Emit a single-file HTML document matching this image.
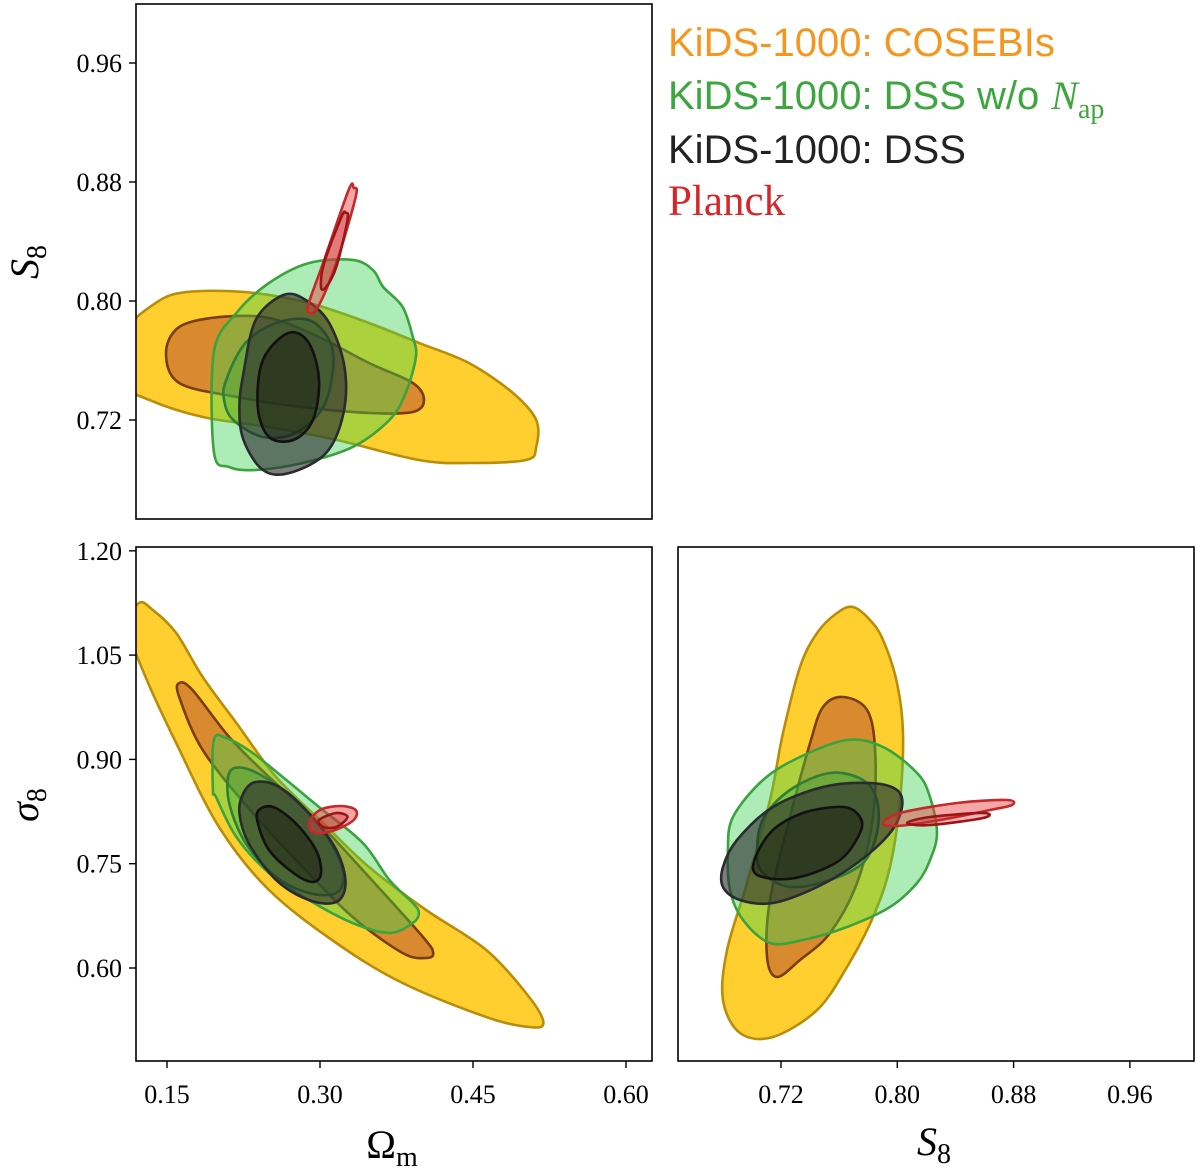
<!DOCTYPE html>
<html><head><meta charset="utf-8"><style>
body{margin:0;background:#fff}
svg{display:block}
text{font-family:"Liberation Serif","DejaVu Serif",serif}
</style></head><body>
<svg id="fig" width="1200" height="1170" viewBox="0 0 1200 1170" xmlns="http://www.w3.org/2000/svg">
<g font-size="40">
<text x="668" y="56" fill="#f5961f" style="font-family:'Liberation Sans',sans-serif">KiDS-1000:  COSEBIs</text>
<text x="668" y="109" fill="#3ea63e"><tspan style="font-family:'Liberation Sans',sans-serif">KiDS-1000:  DSS w/o</tspan><tspan font-style="italic" dx="12">N</tspan><tspan font-size="28" dy="9">ap</tspan></text>
<text x="668" y="163" fill="#222" style="font-family:'Liberation Sans',sans-serif">KiDS-1000:  DSS</text>
<text x="668" y="215" fill="#d62728" font-size="43">Planck</text>
</g>
</svg>
<script>
// ---- axis ticks ----
const omTicks=[0.15,0.30,0.45,0.60];
const s8Ticks=[0.72,0.80,0.88,0.96];
const sigTicks=[0.60,0.75,0.90,1.05,1.20];
// ---- contour data: [x,y] in data units ----
// Panel A: Omega_m vs S8
const A_cosebis2=[[0.108,0.778],[0.139,0.7987],[0.169,0.806],[0.227,0.806],[0.289,0.7987],[0.348,0.7852],[0.397,0.7718],[0.446,0.7583],[0.489,0.7382],[0.512,0.72],[0.512,0.7018],[0.502,0.6931],[0.446,0.6911],[0.397,0.6931],[0.316,0.7066],[0.250,0.7153],[0.185,0.722],[0.133,0.7334],[0.108,0.745]];
const A_cosebis1=[[0.149,0.765],[0.162,0.7825],[0.201,0.7892],[0.250,0.7886],[0.299,0.7758],[0.348,0.7583],[0.391,0.7449],[0.402,0.7334],[0.391,0.7254],[0.348,0.7247],[0.283,0.7287],[0.218,0.7355],[0.162,0.7449]];
const A_noNap2=[[0.196,0.7657],[0.218,0.7919],[0.250,0.8121],[0.289,0.8255],[0.332,0.8276],[0.352,0.8208],[0.362,0.8094],[0.381,0.796],[0.391,0.7758],[0.394,0.7624],[0.384,0.7382],[0.368,0.72],[0.332,0.7018],[0.283,0.6911],[0.237,0.6864],[0.211,0.6884],[0.196,0.6985]];
const A_noNap1=[[0.208,0.7469],[0.227,0.7718],[0.257,0.7852],[0.289,0.7872],[0.309,0.7738],[0.313,0.7556],[0.303,0.7287],[0.276,0.7113],[0.244,0.7086],[0.215,0.72],[0.206,0.7334]];
const A_dss2=[[0.225,0.7516],[0.237,0.7872],[0.264,0.804],[0.286,0.8007],[0.309,0.7852],[0.324,0.7556],[0.323,0.7247],[0.306,0.6978],[0.270,0.6844],[0.244,0.6864],[0.225,0.7066],[0.221,0.7287]];
const A_dss1=[[0.269,0.7785],[0.289,0.7718],[0.299,0.7469],[0.293,0.72],[0.274,0.7066],[0.250,0.7086],[0.239,0.7287],[0.244,0.7603]];
const A_planck2=[[0.333,0.876],[0.335,0.870],[0.316,0.8255],[0.298,0.796],[0.289,0.792],[0.289,0.7987],[0.303,0.8255],[0.328,0.8746]];
const A_planck1=[[0.325,0.8592],[0.327,0.8545],[0.316,0.8229],[0.306,0.8094],[0.301,0.8094],[0.304,0.8255],[0.321,0.8565]];
// Panel B: Omega_m vs sigma8
const B_cosebis2=[[0.1225,1.125],[0.136,1.115],[0.159,1.0818],[0.185,1.0185],[0.218,0.9524],[0.257,0.8747],[0.303,0.8085],[0.348,0.7453],[0.404,0.6834],[0.463,0.6259],[0.505,0.5583],[0.519,0.5209],[0.505,0.5151],[0.463,0.5295],[0.381,0.5784],[0.316,0.636],[0.250,0.7122],[0.201,0.8028],[0.159,0.9236],[0.129,1.0185],[0.112,1.09]];
const B_cosebis1=[[0.162,1.0099],[0.175,0.9998],[0.211,0.9322],[0.250,0.8747],[0.299,0.8085],[0.348,0.7309],[0.401,0.6446],[0.411,0.6216],[0.404,0.6144],[0.381,0.6216],[0.332,0.6733],[0.283,0.7453],[0.234,0.8229],[0.185,0.9135],[0.162,0.9898]];
const B_noNap2=[[0.196,0.9279],[0.208,0.9308],[0.234,0.9092],[0.267,0.8704],[0.299,0.8316],[0.342,0.7798],[0.368,0.7266],[0.391,0.6935],[0.397,0.6791],[0.391,0.6647],[0.368,0.6503],[0.332,0.6647],[0.289,0.6978],[0.250,0.7366],[0.218,0.7884],[0.198,0.8459],[0.195,0.856]];
const B_noNap1=[[0.211,0.8805],[0.225,0.8876],[0.250,0.8704],[0.283,0.8316],[0.309,0.7841],[0.323,0.7366],[0.316,0.7079],[0.289,0.7079],[0.257,0.7309],[0.227,0.7798],[0.211,0.8373]];
const B_dss2=[[0.225,0.8517],[0.237,0.8675],[0.260,0.8603],[0.289,0.8229],[0.316,0.7697],[0.325,0.7223],[0.316,0.6949],[0.289,0.6978],[0.257,0.7266],[0.230,0.7798],[0.221,0.8229]];
const B_dss1=[[0.240,0.8272],[0.254,0.8316],[0.276,0.8085],[0.296,0.7697],[0.301,0.7366],[0.293,0.7237],[0.274,0.7366],[0.250,0.7697],[0.239,0.8085]];
const B_planck2=[[0.289,0.8085],[0.300,0.8272],[0.320,0.833],[0.335,0.8272],[0.333,0.8129],[0.315,0.7985],[0.295,0.7942]];
const B_planck1=[[0.299,0.8129],[0.316,0.8229],[0.327,0.8172],[0.316,0.8028],[0.303,0.8028]];
// Panel C: S8 vs sigma8
const C_cosebis2=[[0.7695,1.1192],[0.7812,1.1005],[0.7902,1.0717],[0.7998,1.0099],[0.8039,0.938],[0.8019,0.8416],[0.795,0.7453],[0.7833,0.6733],[0.7654,0.6014],[0.7448,0.5396],[0.7145,0.5008],[0.6918,0.5065],[0.6801,0.554],[0.6829,0.6259],[0.6966,0.7223],[0.7124,0.8416],[0.7214,0.938],[0.7331,1.0329],[0.7448,1.0818],[0.7585,1.1106]];
const C_cosebis1=[[0.7627,0.9898],[0.7792,0.9711],[0.7847,0.9135],[0.7833,0.8172],[0.7723,0.7223],[0.7537,0.6503],[0.7331,0.6115],[0.7172,0.5871],[0.7104,0.6158],[0.7124,0.6978],[0.7262,0.8172],[0.74,0.9236],[0.7489,0.9754]];
const C_noNap2=[[0.687,0.8172],[0.7076,0.8704],[0.7331,0.9035],[0.7654,0.9279],[0.7902,0.9179],[0.8136,0.8805],[0.8225,0.8459],[0.8273,0.7942],[0.8225,0.7553],[0.8136,0.7223],[0.795,0.6877],[0.7654,0.659],[0.7351,0.6403],[0.7124,0.636],[0.6939,0.669],[0.6849,0.7122],[0.6835,0.7697]];
const C_noNap1=[[0.7076,0.8142],[0.7262,0.856],[0.7537,0.8805],[0.7764,0.8704],[0.786,0.8416],[0.786,0.7942],[0.7764,0.751],[0.7537,0.7266],[0.7262,0.7165],[0.7076,0.7366],[0.7035,0.7654]];
const C_dss2=[[0.6801,0.7453],[0.6897,0.7841],[0.7145,0.8316],[0.7489,0.8603],[0.7812,0.8661],[0.7998,0.856],[0.8032,0.8316],[0.795,0.7942],[0.7723,0.751],[0.7448,0.7165],[0.7145,0.6935],[0.6918,0.6978],[0.6801,0.7165]];
const C_dss1=[[0.7007,0.7453],[0.7124,0.7942],[0.7351,0.8229],[0.7627,0.8316],[0.7743,0.8172],[0.7743,0.7942],[0.7606,0.7553],[0.7331,0.7309],[0.7104,0.7294]];
const C_planck2=[[0.7902,0.8085],[0.8019,0.8229],[0.8411,0.8373],[0.8755,0.8416],[0.8789,0.8344],[0.8638,0.8272],[0.8294,0.8128],[0.7998,0.8042]];
const C_planck1=[[0.8067,0.8085],[0.8225,0.8172],[0.859,0.8229],[0.859,0.8157],[0.8225,0.8056]];

const NS='http://www.w3.org/2000/svg';
const svg=document.getElementById('fig');
function mk(tag,attrs,parent){const e=document.createElementNS(NS,tag);for(const k in attrs)e.setAttribute(k,attrs[k]);(parent||svg).appendChild(e);return e;}
function xOm(v){return 167+(v-0.15)*1020;}
function yS8(v){return 420-(v-0.72)*1487.5;}
function ySig(v){return 968-(v-0.60)*695.3;}
function xS8(v){return 781+(v-0.72)*1453.75;}
function smoothPath(P){
  const n=P.length;let d='M'+P[0][0].toFixed(1)+','+P[0][1].toFixed(1);
  for(let i=0;i<n;i++){
    const p0=P[(i-1+n)%n],p1=P[i],p2=P[(i+1)%n],p3=P[(i+2)%n];
    const c1=[p1[0]+(p2[0]-p0[0])/6,p1[1]+(p2[1]-p0[1])/6];
    const c2=[p2[0]-(p3[0]-p1[0])/6,p2[1]-(p3[1]-p1[1])/6];
    d+='C'+c1[0].toFixed(1)+','+c1[1].toFixed(1)+' '+c2[0].toFixed(1)+','+c2[1].toFixed(1)+' '+p2[0].toFixed(1)+','+p2[1].toFixed(1);
  }
  return d+'Z';
}
const styles={
 cos2:{fill:'#ffcf30',stroke:'#b88d0a'},
 cos1:{fill:'#d98a2e',stroke:'#7a3e0c'},
 nn2:{fill:'rgba(60,210,80,0.42)',stroke:'#3aa33e'},
 nn1:{fill:'rgba(40,170,60,0.35)',stroke:'#2f7f35'},
 d2:{fill:'rgba(40,40,45,0.6)',stroke:'#2a2a30'},
 d1:{fill:'rgba(20,20,10,0.45)',stroke:'#111'},
 p2:{fill:'rgba(230,60,60,0.45)',stroke:'#c42a2a'},
 p1:{fill:'rgba(200,40,40,0.35)',stroke:'#9b1518'}
};
function panel(id,x0,y0,w,h,fx,fy,sets){
  const cp=mk('clipPath',{id:'clip-'+id});
  mk('rect',{x:x0,y:y0,width:w,height:h},cp);
  const g=mk('g',{'clip-path':'url(#clip-'+id+')'});
  
  
  sets.forEach(([pts,st,name])=>{
    const s=styles[st];
    const px=pts.map(q=>[fx(q[0]),fy(q[1])]);
    const p=mk('path',{d:smoothPath(px),fill:s.fill,stroke:s.stroke,'stroke-width':2.6,'stroke-linejoin':'round'},g);
    
    
  });
  const fr=mk('rect',{x:x0,y:y0,width:w,height:h,fill:'none',stroke:'#000','stroke-width':1.6});
  
  
}
function yTicks(ticks,fy,x0,name){
  ticks.forEach(t=>{
    const y=fy(t);
    mk('line',{x1:x0-7,x2:x0,y1:y,y2:y,stroke:'#000','stroke-width':1.4});
    const tx=mk('text',{x:x0-14,y:y+9,'font-size':26,'text-anchor':'end'});
    tx.textContent=t.toFixed(2);
    
    
  });
}
function xTicks(ticks,fx,y0,name){
  ticks.forEach(t=>{
    const x=fx(t);
    mk('line',{x1:x,x2:x,y1:y0,y2:y0+7,stroke:'#000','stroke-width':1.4});
    const tx=mk('text',{x:x,y:y0+42,'font-size':26,'text-anchor':'middle'});
    tx.textContent=t.toFixed(2);
    
    
  });
}
panel('panel-om-s8',136,4,516,515,xOm,yS8,[
 [A_cosebis2,'cos2','cosebis-95'],[A_cosebis1,'cos1','cosebis-68'],
 [A_noNap2,'nn2','dss-no-nap-95'],[A_noNap1,'nn1','dss-no-nap-68'],
 [A_dss2,'d2','dss-95'],[A_dss1,'d1','dss-68'],
 [A_planck2,'p2','planck-95'],[A_planck1,'p1','planck-68']]);
panel('panel-om-sigma8',136,547,516,514,xOm,ySig,[
 [B_cosebis2,'cos2','cosebis-95'],[B_cosebis1,'cos1','cosebis-68'],
 [B_noNap2,'nn2','dss-no-nap-95'],[B_noNap1,'nn1','dss-no-nap-68'],
 [B_dss2,'d2','dss-95'],[B_dss1,'d1','dss-68'],
 [B_planck2,'p2','planck-95'],[B_planck1,'p1','planck-68']]);
panel('panel-s8-sigma8',678,547,516,514,xS8,ySig,[
 [C_cosebis2,'cos2','cosebis-95'],[C_cosebis1,'cos1','cosebis-68'],
 [C_noNap2,'nn2','dss-no-nap-95'],[C_noNap1,'nn1','dss-no-nap-68'],
 [C_dss2,'d2','dss-95'],[C_dss1,'d1','dss-68'],
 [C_planck2,'p2','planck-95'],[C_planck1,'p1','planck-68']]);
yTicks(s8Ticks,yS8,136,'s8-y');
yTicks(sigTicks,ySig,136,'sigma8-y');
xTicks(omTicks,xOm,1061,'omega-m-x');
xTicks(s8Ticks,xS8,1061,'s8-x');
function title(html,x,y,rot,name){
  const t=mk('text',{x:x,y:y,'font-size':40,'text-anchor':'middle'});
  if(rot)t.setAttribute('transform','rotate(-90 '+x+' '+y+')');
  t.innerHTML=html;
  
  
}
title('<tspan font-style="italic">S</tspan><tspan font-size="28" dy="8">8</tspan>',38,262,true,'s8-y-axis-title');
title('<tspan font-style="italic">σ</tspan><tspan font-size="28" dy="8">8</tspan>',38,805,true,'sigma8-y-axis-title');
title('Ω<tspan font-size="28" dy="8">m</tspan>',392,1158,false,'omega-m-x-axis-title');
title('<tspan font-style="italic">S</tspan><tspan font-size="28" dy="8">8</tspan>',934,1155,false,'s8-x-axis-title');
</script>
</body></html>
